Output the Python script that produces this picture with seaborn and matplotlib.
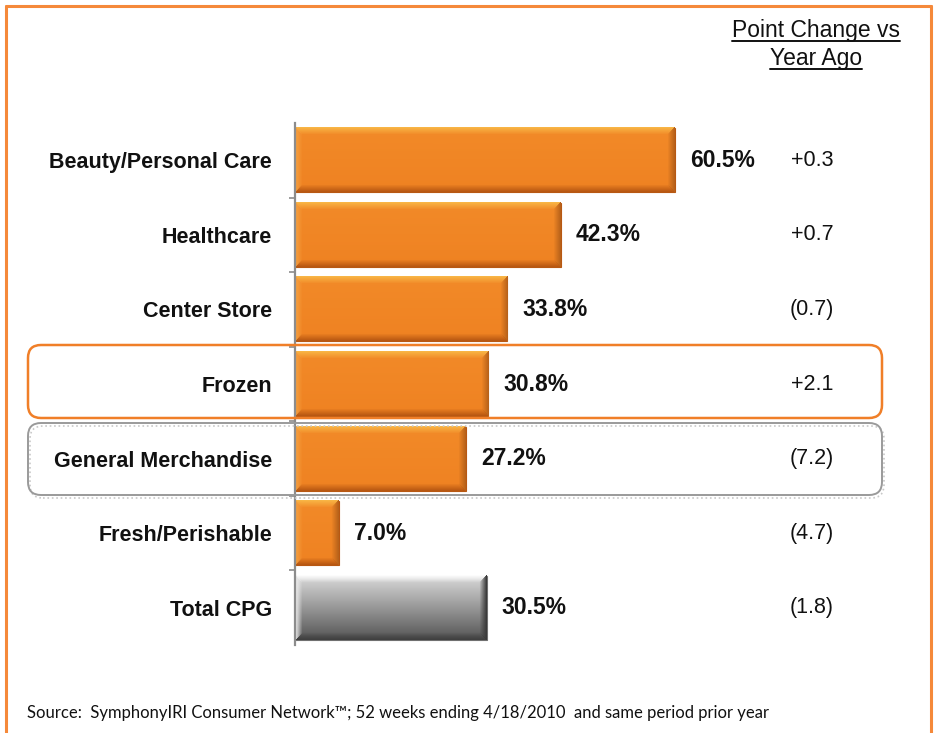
import numpy as np
import matplotlib
matplotlib.use("Agg")
import matplotlib.pyplot as plt
import seaborn as sns
import pandas as pd
from matplotlib.patches import FancyBboxPatch
from matplotlib.lines import Line2D
from matplotlib.transforms import IdentityTransform, blended_transform_factory

categories = ["Beauty/Personal Care", "Healthcare", "Center Store", "Frozen",
              "General Merchandise", "Fresh/Perishable", "Total CPG"]
shares = [60.5, 42.3, 33.8, 30.8, 27.2, 7.0, 30.5]
changes = ["+0.3", "+0.7", "(0.7)", "+2.1", "(7.2)", "(4.7)", "(1.8)"]
header = ["Point Change vs", "Year Ago"]
source = "Source:  SymphonyIRI Consumer Network\u2122; 52 weeks ending 4/18/2010  and same period prior year"

sns.set_theme(style="white")
plt.rcParams['font.family'] = ['Liberation Sans', 'DejaVu Sans']

W, H = 935, 733
fig = plt.figure(figsize=(W / 100, H / 100), dpi=100)
fig.patch.set_facecolor("white")

def fx(px): return px / W
def fy(py): return 1 - py / H

ax_left, ax_right, ax_top, ax_bot = 295, 880, 123, 645
ax = fig.add_axes([fx(ax_left), fy(ax_bot), fx(ax_right - ax_left), (ax_bot - ax_top) / H])
ax.set_facecolor("none")

df = pd.DataFrame({"category": categories, "share": shares})
colors = ["#F08526"] * 6 + ["#909090"]
sns.barplot(data=df, x="share", y="category", hue="category", palette=colors,
            legend=False, width=0.86, ax=ax, orient="h", saturation=1)

px_per_unit = 6.28
xmax = (ax_right - ax_left) / px_per_unit
ax.set_xlim(0, xmax)
ax.set_ylim(6.5, -0.5)

def hexrgb(h):
    h = h.lstrip('#')
    return np.array([int(h[i:i + 2], 16) / 255 for i in (0, 2, 4)])

def bevel_img(w, h, face_top, face_bot, top, bottom, left, right, b=7):
    w = max(int(w), 2); h = max(int(h), 2)
    yy, xx = np.mgrid[0:h, 0:w].astype(float)
    t = (yy / (h - 1))[..., None]
    img = hexrgb(face_top) * (1 - t) + hexrgb(face_bot) * t
    dt, db, dl, dr = yy, h - 1 - yy, xx, w - 1 - xx
    m = np.minimum(np.minimum(dt, db), np.minimum(dl, dr))
    for d, c in ((dt, top), (db, bottom), (dl, left), (dr, right)):
        mask = (d == m) & (d < b)
        f = (d / b)[..., None]
        col = hexrgb(c) * (1 - f) + img * f
        img = np.where(mask[..., None], col, img)
    return img

bar_h_px = 0.86 * (ax_bot - ax_top) / 7
for i, p in enumerate(ax.patches):
    x0, y0 = p.get_x(), p.get_y()
    wdt, hgt = p.get_width(), p.get_height()
    wpx = wdt * px_per_unit
    if i == 6:
        img = bevel_img(wpx, bar_h_px, "#DADADA", "#555555", "#FCFCFC", "#404040", "#EDEDED", "#3A3A3A")
        p.set_edgecolor("#707070")
    else:
        img = bevel_img(wpx, bar_h_px, "#F28A28", "#EF8222", "#F8B545", "#B85812", "#F5A040", "#B8621A")
        p.set_edgecolor("#B85812")
    p.set_linewidth(0.8)
    ax.imshow(img, extent=(x0, x0 + wdt, y0 + hgt, y0), aspect="auto",
              interpolation="bilinear", zorder=2, clip_on=False)

ax.set_xlim(0, xmax)
ax.set_ylim(6.5, -0.5)

for i, v in enumerate(shares):
    ax.text(v + 15 / px_per_unit, i, f"{v:.1f}%", va="center", ha="left",
            fontsize=16.5, fontweight="bold", color="#111111", zorder=5)

tr = blended_transform_factory(fig.transFigure, ax.transData)
for i, c in enumerate(changes):
    ax.text(fx(812), i, c, transform=tr, ha="center", va="center",
            fontsize=15.5, color="#111111")

ax.set_xticks([])
ax.set_xlabel("")
ax.set_ylabel("")
ax.set_yticks(range(7))
ax.set_yticklabels(categories, fontsize=15.5, fontweight="bold", color="#111111")
ax.tick_params(axis="y", which="major", length=0, pad=16.5)
ax.set_yticks(np.arange(0.5, 6, 1), minor=True)
ax.tick_params(axis="y", which="minor", length=4, width=1.2, color="#8C8C8C", direction="out", left=True)
for s in ("top", "right", "bottom"):
    ax.spines[s].set_visible(False)
ax.spines["left"].set_color("#8C8C8C")
ax.spines["left"].set_linewidth(1.6)
ax.spines["left"].set_zorder(6)

# highlight boxes (pixel coords, origin bottom-left)
def box(x0, ytop, x1, ybot, ec, lw=1.6, ls="-", z=3):
    b = FancyBboxPatch((x0, H - ybot), x1 - x0, ybot - ytop,
                       boxstyle="round,pad=0,rounding_size=13",
                       transform=IdentityTransform(), fill=False,
                       edgecolor=ec, linewidth=lw, linestyle=ls, zorder=z)
    fig.add_artist(b)

box(30, 426, 884, 498, "#C8C8C8", lw=1.2, ls=":")
box(28, 423, 882, 495, "#9A9A9A", lw=1.4)
box(28, 345, 882, 418, "#F07F28", lw=1.8)

# outer frame
fc = "#F5893A"
fig.add_artist(Line2D([fx(6), fx(6)], [fy(6), 0], transform=fig.transFigure, color=fc, lw=2.2))
fig.add_artist(Line2D([fx(6), fx(931)], [fy(6), fy(6)], transform=fig.transFigure, color=fc, lw=2.2))
fig.add_artist(Line2D([fx(931), fx(931)], [fy(6), 0], transform=fig.transFigure, color=fc, lw=2.2))

# header
h1 = fig.text(fx(816), fy(30), header[0], ha="center", va="center", fontsize=16.5, color="#111111")
h2 = fig.text(fx(816), fy(58), header[1], ha="center", va="center", fontsize=16.5, color="#111111")

fig.text(fx(27), fy(713), source, ha="left", va="center", fontsize=12,
         family=["Lato", "DejaVu Sans"], color="#111111")

fig.canvas.draw()
r = fig.canvas.get_renderer()
for t in (h1, h2):
    bb = t.get_window_extent(r)
    y = bb.y0 + 1
    fig.add_artist(Line2D([bb.x0, bb.x1], [y, y], transform=IdentityTransform(),
                          color="#111111", lw=1.4))

fig.savefig("out.png", dpi=100)
